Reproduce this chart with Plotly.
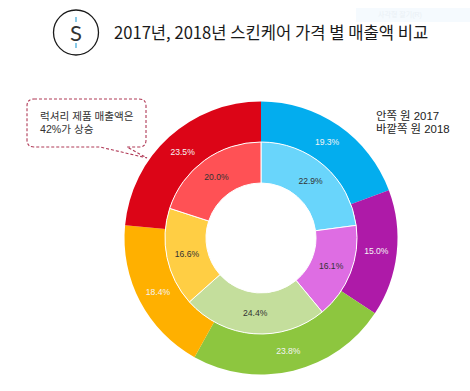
import plotly.graph_objects as go

W, H = 470, 391
FONT = "Noto Sans CJK KR"
LABEL_FONT = "Liberation Sans, Noto Sans CJK KR"

categories = ["A", "B", "C", "D", "E"]
values_2018 = [19.3, 15.0, 23.8, 18.4, 23.5]
values_2017 = [22.9, 16.1, 24.4, 16.6, 20.0]
colors_2018 = ["#03ADEE", "#AE1AA8", "#8DC63F", "#FFB000", "#DC0517"]
colors_2017 = ["#69D5FB", "#DE6DE3", "#C4DE9C", "#FFCE44", "#FF5155"]
title_text = "2017년, 2018년 스킨케어 가격 별 매출액 비교"
callout_line1 = "럭셔리 제품 매출액은"
callout_line2 = "42%가 상승"
legend_line1 = "안쪽 원 2017"
legend_line2 = "바깥쪽 원 2018"

CX, CY = 261, 238
R_OUT, R_MID, R_IN = 136.5, 96, 55


def fx(p):
    return p / W


def fy(p):
    return 1 - p / H


def dom(r):
    return dict(x=[fx(CX - r), fx(CX + r)], y=[fy(CY + r), fy(CY - r)])


fig = go.Figure()
fig.add_trace(go.Pie(
    labels=categories, values=values_2018, sort=False, direction="clockwise",
    rotation=0, hole=R_MID / R_OUT, domain=dom(R_OUT),
    marker=dict(colors=colors_2018, line=dict(width=0)),
    texttemplate="%{value:.1f}%", textposition="inside",
    insidetextorientation="horizontal",
    insidetextfont=dict(color="#F4F4F4", size=8.6, family="Liberation Sans"),
    showlegend=False,
))
fig.add_trace(go.Pie(
    labels=categories, values=values_2017, sort=False, direction="clockwise",
    rotation=0, hole=R_IN / R_MID, domain=dom(R_MID),
    marker=dict(colors=colors_2017, line=dict(width=1, color="#FFFFFF")),
    texttemplate="%{value:.1f}%", textposition="inside",
    insidetextorientation="horizontal",
    insidetextfont=dict(color="#333333", size=8.6, family="Liberation Sans"),
    showlegend=False,
))


def ann(text, x, y, size, color="#1A1A1A", anchor="left", family=FONT):
    fig.add_annotation(text=text, x=fx(x), y=fy(y), xref="paper", yref="paper",
                       showarrow=False, xanchor=anchor, yanchor="middle", align="left",
                       borderpad=0, borderwidth=0,
                       font=dict(size=size, color=color, family=family))


callout_pts = [
    ("M", 34, 99), ("L", 139, 99), ("Q", 146, 99, 146, 106), ("L", 146, 140),
    ("Q", 146, 147, 139, 147), ("L", 127, 147), ("L", 147, 158), ("L", 100, 147),
    ("L", 34, 147), ("Q", 27, 147, 27, 140), ("L", 27, 106), ("Q", 27, 99, 34, 99),
]
d = ""
for p in callout_pts:
    nums = p[1:]
    coords = []
    for i in range(0, len(nums), 2):
        coords.append(f"{fx(nums[i]):.5f},{fy(nums[i + 1]):.5f}")
    d += p[0] + " ".join(coords) + " "
d += "Z"

shapes = [
    dict(type="rect", xref="paper", yref="paper", x0=fx(356), x1=fx(470), y0=fy(8), y1=fy(22),
         fillcolor="#F5FAFE", line=dict(width=0), layer="below"),
    dict(type="circle", xref="paper", yref="paper", x0=fx(53.5), x1=fx(98.5), y0=fy(55), y1=fy(10),
         line=dict(color="#1A1A1A", width=1.3), fillcolor="rgba(0,0,0,0)"),
    dict(type="line", xref="paper", yref="paper", x0=fx(76), x1=fx(76), y0=fy(17), y1=fy(22),
         line=dict(color="#3AA6D8", width=1.2)),
    dict(type="line", xref="paper", yref="paper", x0=fx(76), x1=fx(76), y0=fy(43), y1=fy(48),
         line=dict(color="#3AA6D8", width=1.2)),
    dict(type="path", xref="paper", yref="paper", path=d,
         line=dict(color="#B03A57", width=1.1, dash="3px,2px"), fillcolor="rgba(255,255,255,0)"),
]

ann("S", 76, 32.5, 22, color="#333333", anchor="center", family="Lato")
ann(title_text, 114, 31.5, 16.6)
ann(callout_line1, 39.5, 116, 10.6, color="#333333", family=LABEL_FONT)
ann(callout_line2, 39.5, 129, 10.6, color="#333333", family=LABEL_FONT)
ann(legend_line1, 376, 115, 11.4, color="#222222", family=LABEL_FONT)
ann(legend_line2, 376, 128, 11.4, color="#222222", family=LABEL_FONT)
ann("사각형 잘기(R)", 378, 15, 7, color="#EAF0F5", family=LABEL_FONT)

fig.update_layout(
    width=W, height=H, margin=dict(l=0, r=0, t=0, b=0),
    paper_bgcolor="#FFFFFF", plot_bgcolor="#FFFFFF",
    shapes=shapes, showlegend=False,
)
fig.write_html("out.html", config=dict(displayModeBar=False),
               post_script="document.body.style.margin='0';document.documentElement.style.overflow='hidden';")
